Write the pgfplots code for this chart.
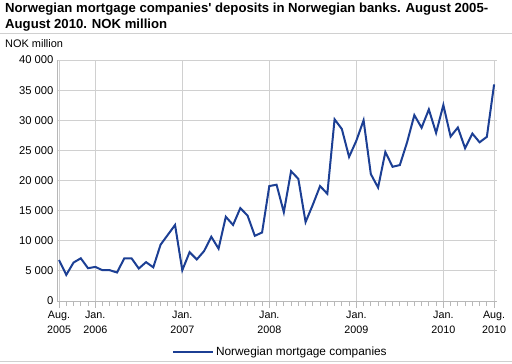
\documentclass[border=0pt]{standalone}
\usepackage{pgfplots}
\pgfplotsset{compat=1.18}
\usepackage{fontspec}
\setmainfont{Liberation Sans}
\definecolor{lineblue}{HTML}{1C3F94}
\definecolor{gridgray}{HTML}{D0D0D0}
\definecolor{axisgray}{HTML}{B8B8B8}
\begin{document}
\begin{tikzpicture}[x=1bp,y=1bp]
\useasboundingbox (0,0) rectangle (512,363);
\node[anchor=base west,inner sep=0pt,font=\fontsize{13.2}{15}\selectfont\bfseries] at (5,351) {Norwegian mortgage companies\textquotesingle\ deposits in Norwegian banks. August 2005-};
\node[anchor=base west,inner sep=0pt,font=\fontsize{13.2}{15}\selectfont\bfseries] at (5,334.5) {August 2010. NOK million};
\draw[gridgray,line width=1bp] (0,329.5) -- (512,329.5);
\node[anchor=base west,inner sep=0pt,font=\fontsize{11}{12}\selectfont] at (5,315.5) {NOK million};
\draw[gridgray,line width=1bp] (0,2) -- (512,2);
\begin{axis}[
  at={(57bp,62bp)}, anchor=south west,
  scale only axis, width=440bp, height=241bp,
  xmin=-0.28, xmax=60.4, ymin=0, ymax=40000,
  axis x line*=bottom, axis y line*=left,
  axis line style={axisgray,line width=0.8bp},
  xtick={0,5,17,29,41,53,60},
  xticklabels={{Aug.\\2005},{Jan.\\2006},{Jan.\\2007},{Jan.\\2008},{Jan.\\2009},{Jan.\\2010},{Aug.\\2010}},
  x tick label style={align=center,font=\fontsize{10.8}{14.5}\selectfont},
  minor xtick={1,2,3,4,6,7,8,9,10,11,12,13,14,15,16,18,19,20,21,22,23,24,25,26,27,28,30,31,32,33,34,35,36,37,38,39,40,42,43,44,45,46,47,48,49,50,51,52,54,55,56,57,58,59},
  xtick align=outside, xtick style={axisgray,line width=0.8bp},
  major tick length=7bp, minor tick length=5bp,
  minor x tick style={axisgray,line width=0.8bp},
  ytick={0,5000,...,40000},
  ytick style={draw=none},
  yticklabel={\pgfmathprintnumber[1000 sep={\ }]{\tick}},
  y tick label style={font=\fontsize{11.3}{12}\selectfont},
  /pgf/number format/assume math mode=true,
  scaled y ticks=false,
  xmajorgrids, ymajorgrids,
  grid style={gridgray,line width=1bp},
  legend style={at={(0.2614,-0.212)},anchor=west,draw=none,fill=none,font=\fontsize{11.9}{12}\selectfont,inner sep=0pt,outer sep=0pt},
  legend image code/.code={\draw[#1] (0bp,0bp) -- (40bp,0bp);},
  clip=false,
]
\addplot[lineblue,line width=2bp] coordinates {
(0,6800) (1,4340) (2,6380) (3,7090) (4,5440) (5,5660) (6,5110) (7,5110) (8,4730) (9,7090)
(10,7090) (11,5390) (12,6450) (13,5590) (14,9340) (15,10980) (16,12620) (17,5100) (18,8100) (19,6900)
(20,8280) (21,10660) (22,8690) (23,13980) (24,12620) (25,15420) (26,14180) (27,10820) (28,11370) (29,19080)
(30,19300) (31,14740) (32,21540) (33,20280) (34,13100) (35,15980) (36,19080) (37,17800) (38,30160) (39,28550)
(40,23920) (41,26600) (42,30000) (43,21060) (44,18830) (45,24720) (46,22280) (47,22560) (48,26350) (49,30850)
(50,28760) (51,31800) (52,27900) (53,32530) (54,27300) (55,28800) (56,25350) (57,27790) (58,26340) (59,27250)
(60,35950)
};
\addlegendentry{Norwegian mortgage companies}
\end{axis}
\end{tikzpicture}
\end{document}
